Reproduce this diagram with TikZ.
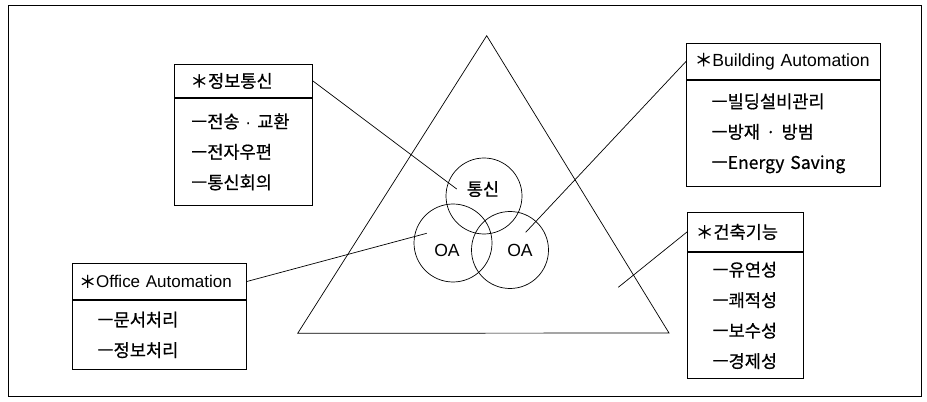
\documentclass[tikz,border=0pt]{standalone}
\usepackage{fontspec}
\setmainfont{Liberation Sans}
\newfontfamily\kr[FakeBold=0.6]{Noto Sans CJK KR}
\usetikzlibrary{positioning}

\begin{document}
\begin{tikzpicture}[
    x=0.03cm,y=-0.03cm,
    head/.style={rectangle,draw,line width=0.8pt,anchor=north west,align=left,inner xsep=0.25cm,inner ysep=0pt,font=\fontsize{15}{16}\selectfont},
    body/.style={rectangle,draw,line width=0.8pt,align=left,inner xsep=0.75cm,inner ysep=0pt,font=\fontsize{15}{26}\selectfont},
    ring/.style={circle,draw,line width=0.6pt,inner sep=0pt},
    tag/.style={font=\fontsize{15}{16}\selectfont},
    link/.style={line width=0.6pt}
]
\useasboundingbox (0,0) rectangle (927,402);

% Frame
\draw[line width=0.8pt] (8,5) rectangle (921,396);

% Triangle
\draw[line width=0.6pt] (486.7,35.7) -- (297.7,333.3) -- (669,333) -- cycle;

% Circles
\node[ring,minimum size=2.28cm] (ring-com) at (484,196) {};
\node[ring,minimum size=2.34cm] (ring-oa1) at (453,243) {};
\node[ring,minimum size=2.31cm] (ring-oa2) at (510,250) {};
\node[tag] (tag-com) at (483,189) {\kr 통신};
\node[tag] (tag-oa1) at (447,250) {OA};
\node[tag] (tag-oa2) at (520,250) {OA};

% Line ends inside the circles and the triangle
\coordinate (end-itc) at (456.7,189);
\coordinate (end-oa) at (426.7,233.3);
\coordinate (end-ba) at (525.7,232.3);
\coordinate (end-arch) at (618.3,287.3);

% Telecommunication
\node[head,inner xsep=0.48cm,text width=3.18cm,minimum height=0.99cm] (itc-head) at (174,64) {\kr ＊정보통신};
\node[body,inner xsep=0.5cm,text width=3.14cm,minimum height=3.21cm,below=0pt of itc-head] (itc-body) {{\kr ㅡ전송} · {\kr 교환}\\\kr ㅡ전자우편\\\kr ㅡ통신회의};

% Office automation
\node[head,inner xsep=0.2cm,text width=4.82cm,minimum height=1.08cm,font=\fontsize{14.5}{16}\selectfont] (oa-head) at (72,263) {{\kr ＊}Office Automation};
\node[body,text width=3.72cm,minimum height=2.07cm,below=0pt of oa-head] (oa-body) {\kr ㅡ문서처리\\\kr ㅡ정보처리};

% Building automation
\node[head,text width=5.32cm,minimum height=1.08cm] (ba-head) at (686,43) {{\kr ＊}Building Automation};
\node[body,text width=4.32cm,minimum height=3.18cm,below=0pt of ba-head] (ba-body) {\kr ㅡ빌딩설비관리\\{\kr ㅡ방재} · {\kr 방범}\\{\kr ㅡ}Energy Saving};

% Architecture
\node[head,text width=2.98cm,minimum height=1.17cm] (arch-head) at (687,212) {\kr ＊건축기능};
\node[body,text width=1.98cm,minimum height=3.78cm,below=0pt of arch-head] (arch-body) {\kr ㅡ유연성\\\kr ㅡ쾌적성\\\kr ㅡ보수성\\\kr ㅡ경제성};

% Connectors
\draw[link] (itc-head.east) -- (end-itc);
\draw[link] (oa-head.east) -- (end-oa);
\draw[link] (ba-head.west) -- (end-ba);
\draw[link] (arch-head.west) -- (end-arch);

\end{tikzpicture}
\end{document}
